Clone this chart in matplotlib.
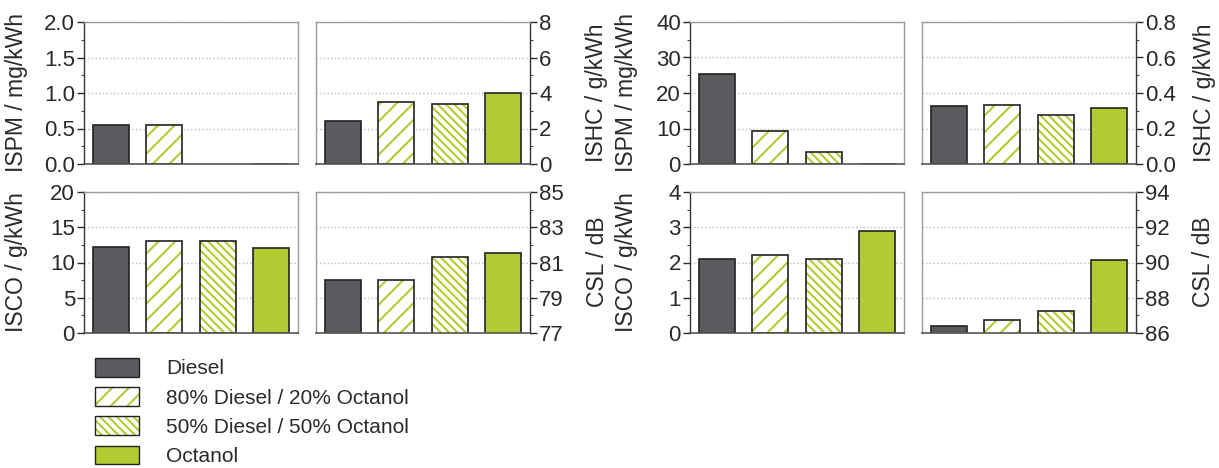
import matplotlib
matplotlib.use('Agg')
import matplotlib.pyplot as plt
import numpy as np
from matplotlib.patches import Patch
from matplotlib.legend_handler import HandlerTuple
from matplotlib.ticker import FixedLocator

plt.rcParams['font.family'] = ['Liberation Sans', 'DejaVu Sans']
plt.rcParams['hatch.linewidth'] = 1.5

# Dados
fuels = ['Diesel', '80% Diesel / 20% Octanol', '50% Diesel / 50% Octanol', 'Octanol']

# bloco esquerdo
ispm_a = [0.55, 0.545, None, 0.0]
ishc_a = [2.40, 3.47, 3.36, 4.0]
isco_a = [12.2, 13.1, 13.0, 12.1]
csl_a = [80.0, 80.03, 81.33, 81.56]

# bloco direito
ispm_b = [25.4, 9.3, 3.4, 0.0]
ishc_b = [0.329, 0.330, 0.276, 0.315]
isco_b = [2.10, 2.21, 2.11, 2.88]
csl_b = [86.40, 86.73, 87.24, 90.14]

DARK = '#595b5e'
GREEN = '#b3cb33'
EDGE = '#222222'
TXT = '#2a2a2a'
hatches = [None, '//', '\\\\\\\\', None]
W = 0.67


def draw_panel(ax, values, ylim, major, minor, side):
    for i, v in enumerate(values):
        if v is None:
            continue
        if i == 0:
            ax.bar(i, v, W, color=DARK, edgecolor=EDGE, linewidth=1.2)
        elif i == 3:
            ax.bar(i, v, W, color=GREEN, edgecolor=EDGE, linewidth=1.2)
        else:
            ax.bar(i, v, W, color='white', edgecolor=GREEN, hatch=hatches[i], linewidth=0)
            ax.bar(i, v, W, fill=False, edgecolor=EDGE, linewidth=1.2)
    ax.set_xlim(-0.5, 3.5)
    ax.set_ylim(*ylim)
    ax.set_xticks([])
    lo, hi = ylim
    ax.yaxis.set_major_locator(FixedLocator(np.arange(lo, hi + major / 2, major)))
    ax.yaxis.set_minor_locator(FixedLocator(np.arange(lo, hi + minor / 2, minor)))
    ax.grid(True, axis='y', which='major', linestyle=':', color='#bdbdbd', linewidth=1.0)
    ax.set_axisbelow(True)
    ax.tick_params(axis='y', which='major', length=5, width=1.0, pad=1.5,
                   labelsize=16, colors=TXT)
    ax.tick_params(axis='y', which='minor', length=2.5, width=0.8, colors='#444444')
    for s in ['top', 'left', 'right']:
        ax.spines[s].set_color('#9a9a9a')
        ax.spines[s].set_linewidth(1.0)
    ax.spines['bottom'].set_color('#555555')
    ax.spines['bottom'].set_linewidth(1.2)
    if side == 'right':
        ax.yaxis.tick_right()
        ax.spines['right'].set_color('#333333')
    else:
        ax.spines['left'].set_color('#333333')


fig = plt.figure(figsize=(12.19, 4.68), dpi=100)
H = 468.0
Wf = 1219.0
pw = 214 / Wf
lefts = [84, 316, 690, 922]
rows = [(22, 164), (192, 333)]


def mk(col, row):
    top, bot = rows[row]
    return fig.add_axes([lefts[col] / Wf, 1 - bot / H, pw, (bot - top) / H])


draw_panel(mk(0, 0), ispm_a, (0, 2), 0.5, 0.25, 'left')
draw_panel(mk(1, 0), ishc_a, (0, 8), 2, 1, 'right')
draw_panel(mk(2, 0), ispm_b, (0, 40), 10, 5, 'left')
draw_panel(mk(3, 0), ishc_b, (0, 0.8), 0.2, 0.1, 'right')
draw_panel(mk(0, 1), isco_a, (0, 20), 5, 2.5, 'left')
draw_panel(mk(1, 1), csl_a, (77, 85), 2, 1, 'right')
draw_panel(mk(2, 1), isco_b, (0, 4), 1, 0.5, 'left')
draw_panel(mk(3, 1), csl_b, (86, 94), 2, 1, 'right')

# Rótulos dos eixos
lab = dict(rotation=90, ha='center', va='center', fontsize=16.5, color=TXT)
fig.text(17 / Wf, 1 - 93 / H, 'ISPM / mg/kWh', **lab)
fig.text(17 / Wf, 1 - 262 / H, 'ISCO / g/kWh', **lab)
fig.text(597 / Wf, 1 - 93 / H, 'ISHC / g/kWh', **lab)
fig.text(627 / Wf, 1 - 93 / H, 'ISPM / mg/kWh', **lab)
fig.text(597 / Wf, 1 - 262 / H, 'CSL / dB', **lab)
fig.text(627 / Wf, 1 - 262 / H, 'ISCO / g/kWh', **lab)
fig.text(1204 / Wf, 1 - 93 / H, 'ISHC / g/kWh', **lab)
fig.text(1204 / Wf, 1 - 262 / H, 'CSL / dB', **lab)

# Legenda
handles = [
    Patch(facecolor=DARK, edgecolor=EDGE, linewidth=1.0),
    (Patch(facecolor='white', edgecolor=GREEN, hatch='//', linewidth=0),
     Patch(fill=False, edgecolor=EDGE, linewidth=1.0)),
    (Patch(facecolor='white', edgecolor=GREEN, hatch='\\\\\\\\', linewidth=0),
     Patch(fill=False, edgecolor=EDGE, linewidth=1.0)),
    Patch(facecolor=GREEN, edgecolor=EDGE, linewidth=1.0),
]
leg = fig.legend(handles, fuels, loc='upper left', bbox_to_anchor=(95 / Wf, 1 - 358 / H),
                 frameon=False, fontsize=15, handlelength=2.1, handleheight=1.0,
                 handletextpad=1.3, labelspacing=0.42, borderpad=0, borderaxespad=0,
                 handler_map={tuple: HandlerTuple(ndivide=1, pad=0)})
for t in leg.get_texts():
    t.set_color(TXT)

fig.savefig('out.png', dpi=100)
